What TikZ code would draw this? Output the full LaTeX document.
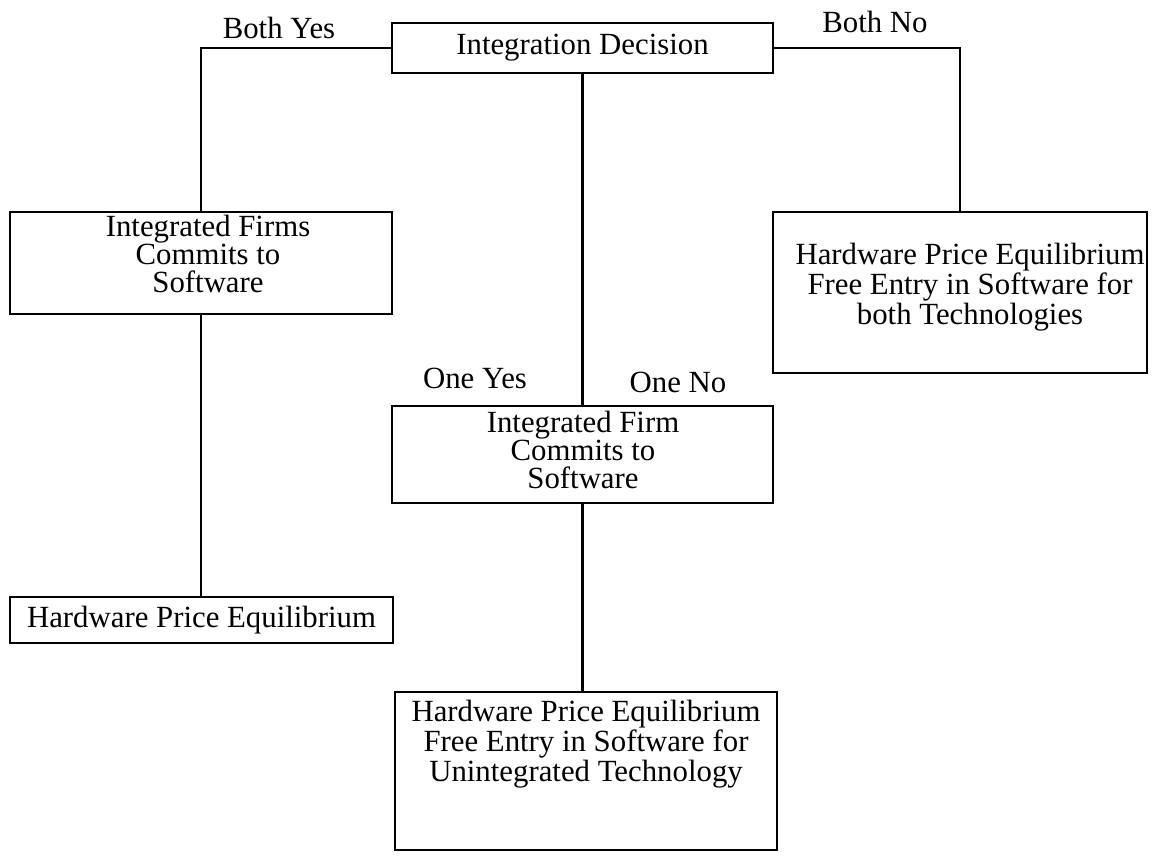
\documentclass[tikz,border=0pt]{standalone}
\usepackage{fontspec}
\setmainfont{Liberation Serif}
\usetikzlibrary{positioning}

\begin{document}
\begin{tikzpicture}[
  x=0.5pt, y=-0.5pt,
  box/.style = {draw, rectangle, line width=1.2pt, inner sep=0pt},
  txt/.style = {align=center, inner sep=0pt},
  branch/.style = {line width=1.4pt},
  every node/.style = {font=\fontsize{15.4}{14}\selectfont}
]
\useasboundingbox (0,0) rectangle (1155,858);

% Decision boxes
\node[box, minimum width=190.5pt, minimum height=25pt] (decide) at (582.5,48) {Integration Decision};
\node[box, minimum width=191pt, minimum height=51pt] (firms) at (201,263) {};
\node[box, minimum width=187pt, minimum height=80.5pt] (noint) at (960,292.5) {};
\node[box, minimum width=190.5pt, minimum height=48.5pt] (firm) at (582.5,454.5) {};
\node[box, minimum width=191.5pt, minimum height=23pt] (hpe) at (201.5,620) {Hardware Price Equilibrium};
\node[box, minimum width=191pt, minimum height=79pt] (unint) at (586,771) {};

% Box texts
\node[txt] (firmsT) at (208,254) {Integrated Firms\\Commits to\\Software};
\node[txt] (nointT) at (970,287) {Hardware Price Equilibrium\\Free Entry in Software for\\both Technologies};
\node[txt] (firmT) at (583,450) {Integrated Firm\\Commits to\\Software};
\node[txt] (unintT) at (586,744) {Hardware Price Equilibrium\\Free Entry in Software for\\Unintegrated Technology};

% Branches
\draw[branch] (decide.west) -| (firms.north);
\draw[branch] (decide.east) -| (noint.north);
\draw[branch] (decide.south) -- (firm.north);
\draw[branch] (firms.south) -- (hpe.north -| firms.south);
\draw[branch] (firm.south) -- (firm.south |- unint.north);

% Branch labels
\node (bothyes) at (279,28) {Both Yes};
\node (bothno) at (875,22) {Both No};
\node (oneyes) at (475,378) {One Yes};
\node (oneno) at (678,382) {One No};

\end{tikzpicture}
\end{document}
